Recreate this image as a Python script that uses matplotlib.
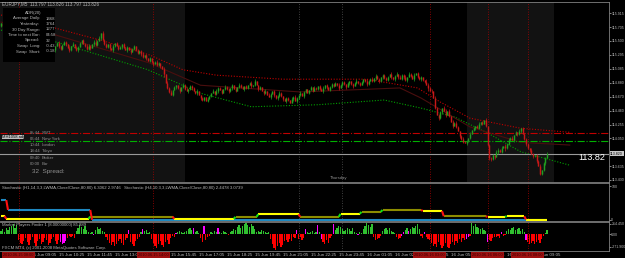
import matplotlib.pyplot as plt
import numpy as np
from matplotlib.transforms import blended_transform_factory

plt.rcParams['font.family'] = ['Liberation Sans', 'DejaVu Sans']

W, H = 625, 258
BAR_PX = 1.75  # horizontal pixels per 5-minute bar

# ---- price data (EURJPY M5), closes in 1/100 yen above 113.00 ----
open0 = 272
closes = [276, 272, 279, 274, 270, 277, 281, 285, 293, 288,
          282, 276, 270, 274, 267, 262, 266, 259, 255, 258,
          252, 247, 250, 244, 240, 245, 238, 241, 246, 240,
          236, 242, 247, 243, 238, 244, 249, 245, 240, 237,
          242, 246, 240, 236, 241, 247, 251, 246, 242, 238,
          243, 240, 245, 249, 244, 250, 255, 262, 252, 246,
          241, 245, 239, 236, 242, 247, 243, 238, 241, 245,
          240, 236, 241, 237, 233, 238, 242, 236, 232, 235,
          230, 226, 229, 224, 220, 225, 218, 215, 219, 214,
          217, 212, 208, 200, 188, 180, 174, 170, 177, 181,
          184, 180, 176, 181, 185, 179, 175, 178, 183, 180,
          176, 172, 175, 169, 165, 162, 166, 161, 164, 168,
          172, 176, 171, 175, 180, 177, 173, 178, 182, 179,
          175, 180, 184, 179, 176, 181, 185, 182, 178, 183,
          180, 184, 188, 183, 185, 190, 184, 178, 181, 176,
          172, 176, 170, 166, 171, 175, 169, 165, 168, 172,
          168, 164, 160, 165, 162, 158, 163, 167, 161, 165,
          169, 172, 168, 174, 178, 173, 177, 181, 176, 180,
          178, 183, 179, 175, 180, 184, 181, 177, 182, 186,
          183, 187, 184, 180, 185, 189, 186, 182, 187, 190,
          186, 183, 188, 191, 187, 184, 189, 193, 190, 186,
          191, 194, 190, 195, 198, 193, 190, 196, 199, 195,
          192, 197, 200, 196, 193, 198, 201, 197, 194, 199,
          196, 192, 197, 201, 198, 194, 199, 202, 197, 193,
          196, 192, 189, 185, 180, 176, 175, 165, 150, 140,
          135, 144, 150, 146, 140, 145, 138, 130, 124, 128,
          122, 116, 108, 104, 100, 98, 101, 106, 112, 117,
          120, 124, 121, 126, 129, 127, 132, 124, 95, 76,
          74, 80, 77, 84, 88, 85, 91, 94, 90, 97,
          102, 106, 103, 110, 114, 111, 116, 120, 112, 104,
          96, 90, 88, 82, 78, 80, 72, 64, 52, 58,
          68, 76, 82]
# wick lengths above / below the body, 1/100 yen per bar
wick_up = ("1213021102 2031120213 1102312011 2013021102 1203110213 2103412021 "
           "1021301120 2110312021 1302110213 2013121302 1120213011 2031021120 "
           "1203112021 1021302110 2112031021 1302112013 2011203121 1302110213 "
           "2011302112 1203112021 0213021103 1120312021 2103112021 1302113021 "
           "2104312031 1203214021 3102312031 2013021302 1203213021 3120213021 "
           "1203102130 2130213021")
wick_dn = ("2102130121 1302011203 2120130211 1203120213 2011302112 1302120312 "
           "2130211203 1021302112 2113021301 1203021120 2130120213 1120312021 "
           "2011302112 2130211203 1203120211 2110302131 1302110213 2103112021 "
           "1120312012 2013021302 1302110213 2011302131 1203120312 2130213021 "
           "3120413021 2130312041 2031203120 1302120213 2130312041 2013021302 "
           "2130213021 1203120312")

# envelope / moving average (bar index, price)
env_up_idx = [0, 31, 57, 85, 104, 123, 161, 209, 238, 251, 268, 297, 325]
env_up_val = [115.885, 115.69, 115.51, 115.29, 115.07, 114.99, 114.93, 114.93,
              114.80, 114.59, 114.35, 114.20, 114.14]
env_lo_idx = [0, 32, 84, 114, 143, 181, 219, 240, 259, 278, 297, 325]
env_lo_val = [115.66, 115.48, 115.07, 114.72, 114.52, 114.55, 114.62, 114.50,
              114.37, 114.13, 113.85, 113.65]
ma_idx = [0, 31, 85, 114, 171, 228, 240, 268, 297, 325]
ma_val = [115.78, 115.59, 115.17, 114.84, 114.74, 114.80, 114.65, 114.22, 113.99, 113.95]

level_red = 114.13
level_green = 114.01
bid = 113.82
price_ticks = [113.430, 113.635, 114.050, 114.255, 114.460, 114.670, 114.880,
               115.085, 115.295, 115.500, 115.705, 115.915]

# vertical marker lines (bar index) and their red date tags
red_vlines = [10, 87, 245, 278, 301]
red_tags = ["2010.06.15 08:00", "2010.06.15 14:00", "2010.06.16 03:00",
            "2010.06.16 06:00", "2010.06.16 08:00"]
grey_vlines = [170, 195]

# time axis labels (bar index of label start)
time_idx = [17, 33, 49, 65, 81, 97, 113, 129, 145, 161, 177, 193, 209, 225,
            241, 257, 273, 289, 305]
time_lab = ["15 Jun 09:05", "15 Jun 10:25", "15 Jun 11:45", "15 Jun 13:05",
            "15 Jun 14:25", "15 Jun 15:45", "15 Jun 17:05", "15 Jun 18:25",
            "15 Jun 19:45", "15 Jun 21:05", "15 Jun 22:25", "15 Jun 23:45",
            "16 Jun 01:05", "16 Jun 02:25", "16 Jun 03:45", "16 Jun 05:05",
            "16 Jun 06:25", "16 Jun 07:45", "16 Jun 09:05"]

# stochastic step lines: segment start bar, value, shade
st1_start = [0, 3, 51, 99, 134, 147, 171, 194, 206, 218, 241, 253, 278, 289, 300]
st1_val = [11, 2, 9, 2, 8, 16, 8, 17, 23, 29, 26, 10, 8, 10, 0]
st1_shade = ['y', 'y', 'o', 'y', 'o', 'y', 'o', 'y', 'o', 'o', 'y', 'o', 'y', 'y', 'y']
st2_start = [0, 4, 52]
st2_val = [59, 29, -1]

# histogram, read in chart pixels (1 px ~ 21 units)
hist_px = [3, 5, 2, 6, 4, 7, 8, 10, 6, 9,
           -6, -9, -10, -7,
           -4, -8, -11, -6, -3, -9, -12, -7, -5, -10, -8, -4, -6, -11, -9, -5, -3, -7, -10, -6,
           -8, -10, -9, -7, -4, -2,
           -3, -2, -4,
           3, 6, 9, 7, 5, 8, 4, 2,
           1, 2, -1,
           4, 7, 5, 6, 3, 2,
           -3, -6, -9, -11, -8, -12, -10, -7, -5, -9, -11, -6, -4, 4, -8, -10, -12, -7, -5, -3,
           2, 5, 3, 4, 1, 2,
           -5, -9, -12, -14, -10, -7, -11, -13, -8, -6, -10, -4, -2, -3,
           1, 2, 3, 2, 1, 2,
           3, 5, 6, 4, 6, 2, 3, 1,
           -4, -8, 8, -6, -3, -2,
           2, 1, 3, 2, 6, 2, 1, 3, 2, 1, -1, 2,
           3, 5, 4, 7, 9, 6, 8, 10, 11, 9, 7, 10, 8, 5,
           2, 3, 2, 4, 3, 2, 1, 2,
           -5, -10, -14, -16, -12, -9, -13, -11, -7,
           -6, -8, -5, -7, -3, -4, 4, -5, -3,
           -6, -4, 5, 2, 1,
           2, 3, 1, 2, 9, 2,
           -5, -8, -10, -6, -9, -4, -2,
           10, 4, 6, 8, 7, 5, 3,
           4, 6, 5, 3, 6, 2,
           1, -1, 2, 1,
           5, 8, 11, 9, 7, 10,
           -3, -6, -5, -4, -2,
           3, 5, 6, 4, 6, 3, 2, 1,
           -3, -5, -4, -2, 2,
           4, 6, 3, 5, 7, 6, 8, 10, 5,
           -2, -4, 2, -3, -5,
           -6, -9, -12, -10, -13, -8, -11, -14, -12, -9, -13, -14, -10, -8, -11, -7, -9, -5, -8, -4, -6,
           -5, -3, -2,
           11, 8, 10, 7, 6,
           5, 6, 4, 3,
           -8, -6, -7, -4, -3,
           -3, -2, -4, 2, -2, -1,
           3, 5, 4, 6, 7, 4, 5, 6, 3, 5, 2,
           -6, -8, -10, -9, -7, -10, -8, -6, -9,
           -5, -2, 1, 4]
hist_magenta = [34, 35, 36, 37, 53, 73, 81, 100, 110, 116, 124, 169, 174, 181,
                183, 190, 204, 229, 230, 233, 242, 266, 267, 278, 286, 300]

# ---- colours ----
BG = '#000000'
SESSION = '#121212'
FG = '#b8b8b8'
FRAME = '#808080'
BULL, BEAR = '#20a020', '#c81818'
RED, GREEN = '#ff1010', '#10e010'
YEL, OLIVE, BLUE = '#ffff00', '#8c8c00', '#1e88c0'

c = 113 + np.array(closes) / 100.0
n = len(c)
o = np.r_[113 + open0 / 100.0, c[:-1]]
up = np.array([int(d) for d in wick_up.replace(' ', '')][:n]) / 100.0
dn = np.array([int(d) for d in wick_dn.replace(' ', '')][:n]) / 100.0
x = np.arange(n)
hi = np.maximum(o, c) + up
lo = np.minimum(o, c) - dn

XMIN, XMAX = -1 / BAR_PX, 608 / BAR_PX


def rect(ytop, ybot):
    return [0, 1 - ybot / H, 609 / W, (ybot - ytop) / H]


fig = plt.figure(figsize=(W / 100, H / 100), dpi=100, facecolor=BG)
ax = fig.add_axes(rect(2, 182))
ax_st = fig.add_axes(rect(183, 221))
ax_h = fig.add_axes(rect(222, 251))

for a in (ax, ax_st, ax_h):
    a.set_facecolor(BG)
    a.set_xlim(XMIN, XMAX)
    a.set_xticks([])
    a.yaxis.tick_right()
    a.tick_params(axis='y', colors=FG, labelsize=2.6, length=1.2, width=0.5, pad=0.5)
    for s in a.spines.values():
        s.set_color(FRAME)
        s.set_linewidth(0.6)
    a.spines['left'].set_visible(False)
    for v in red_vlines:
        a.axvline(v, color='#b00000', lw=0.6, ls=(0, (1, 2)), zorder=1)
    for v in grey_vlines:
        a.axvline(v, color='#555555', lw=0.6, ls=(0, (1, 2)), zorder=1)

# ---- main price panel ----
ax.set_ylim(113.4002, 116.0787)
ax.axvspan(XMIN, 105, color=SESSION, lw=0, zorder=0)
ax.axvspan(266, 316, color=SESSION, lw=0, zorder=0)
ax.plot(env_up_idx, env_up_val, color='#c00000', lw=0.8, ls=(0, (1, 1.5)), zorder=2)
ax.plot(env_lo_idx, env_lo_val, color='#00a000', lw=0.8, ls=(0, (1, 1.5)), zorder=2)
ax.plot(ma_idx, ma_val, color='#4a0e0e', lw=0.8, zorder=2)
ax.axhline(level_red, color='#c00000', lw=0.8, ls='-.', zorder=2)
ax.axhline(level_green, color='#00b000', lw=0.8, ls='-.', zorder=2)
ax.axhline(bid, color='#9a9a9a', lw=0.8, zorder=2)

cols = np.where(c >= o, BULL, BEAR)
ax.vlines(x, lo, hi, colors=cols, lw=0.5, zorder=3)
ax.vlines(x, np.minimum(o, c), np.maximum(np.maximum(o, c), np.minimum(o, c) + 0.006),
          colors=cols, lw=1.05, zorder=3)

ax.set_yticks(price_ticks)
ax.set_yticklabels([f"{p:.3f}" for p in price_ticks])
ax.text(1.002, bid, f"{bid:.3f}", transform=blended_transform_factory(ax.transAxes, ax.transData),
        ha='left', va='center', fontsize=2.6, color='black',
        bbox=dict(boxstyle='square,pad=0.15', fc='#c8c8c8', ec='none'), clip_on=False, zorder=6)
ax.text(330, bid + 0.012, "113.82", fontsize=6.5, color='white', ha='left', va='top', zorder=6)

# header and info box
T = ax.transAxes


def px(xp, yp):
    return xp / 609, 1 - (yp - 2) / 180


ax.text(*px(2, 4), "EURJPY,M5  113.797 113.826 113.797 113.826", transform=T,
        fontsize=3.3, color=FG, va='center', ha='left', zorder=7)
ax.add_patch(plt.Rectangle(px(3, 62), 52 / 609, 54 / 180, transform=T,
                           fc='#000000', ec='none', zorder=5))
info = [("", "ADR(20)"), ("Average Daily:", "1468"), ("Yesterday:", "1764"),
        ("30 Day Range:", "1277"), ("Time to next Bar:", "04:58"),
        ("Spread:", "32"), ("Swap  Long:", "-0.43"), ("Swap  Short:", "-0.18")]
for k, (lab, val) in enumerate(info):
    yy = 13 + k * 5.5
    if lab:
        ax.text(*px(40, yy), lab, transform=T, fontsize=3.1, color=FG, ha='right', va='center', zorder=6)
        ax.text(*px(46, yy), val, transform=T, fontsize=3.1, color=FG, ha='left', va='center', zorder=6)
    else:
        ax.text(*px(25, yy), val, transform=T, fontsize=3.1, color=FG, ha='left', va='center', zorder=6)

sessions = [("05:44", "SWT", 133), ("06:44", "New York", 139), ("10:44", "London", 145),
            ("18:44", "Tokyo", 151), ("09:40", "Broker", 158), ("00:00", "Bar", 164)]
for tm, name, yy in sessions:
    ax.text(*px(30, yy), tm, transform=T, fontsize=3.1, color='#909090', ha='left', va='center', zorder=6)
    ax.text(*px(42, yy), name, transform=T, fontsize=3.1, color='#909090', ha='left', va='center', zorder=6)
ax.text(*px(2, 137), "MH1058 adj", transform=T, fontsize=3.0, color='black', ha='left', va='center',
        bbox=dict(boxstyle='square,pad=0.1', fc='#c0c0c0', ec='none'), zorder=7)
ax.text(*px(32, 171), "32  Spread:", transform=T, fontsize=4.6, color='#909090', ha='left', va='center', zorder=6)
ax.text(*px(330, 178), "Thursday", transform=T, fontsize=3.1, color='#909090', ha='left', va='center', zorder=6)

# ---- stochastic panel ----
ax_st.set_ylim(-4.5, 110.6)
ax_st.set_yticks([0, 100])
ax_st.set_yticklabels(["0", "100"])


def draw_steps(a, starts, vals, shades, end):
    ends = starts[1:] + [end]
    for k, (s, e, v, sh) in enumerate(zip(starts, ends, vals, shades)):
        a.plot([s, e - 1], [v, v], color=sh, lw=1.5, solid_capstyle='butt', zorder=3)
        if k + 1 < len(starts):
            nv = vals[k + 1]
            a.plot([e - 1, e], [v, nv], color=RED if nv < v else GREEN, lw=1.5,
                   solid_capstyle='butt', zorder=4)


draw_steps(ax_st, st2_start, st2_val, [BLUE] * len(st2_start), n)
draw_steps(ax_st, st1_start, st1_val, [YEL if s == 'y' else OLIVE for s in st1_shade], n)
ax_st.text(0.003, 0.93, "Stochastic (H1,14,3,3,LWMA,Close/Close,80,80) 6.3062 2.9746   "
           "Stochastic (H4,10,3,3,LWMA,Close/Close,80,80) 2.4478 3.0739",
           transform=ax_st.transAxes, fontsize=3.1, color=FG, ha='left', va='top')

# ---- histogram panel ----
hv = np.array(hist_px) * 21.0
hx = np.arange(len(hv))
hcol = np.where(hv >= 0, '#30c030', '#ff0000').astype(object)
for m in hist_magenta:
    if m < len(hcol):
        hcol[m] = '#ff00ff'
ax_h.bar(hx, hv, width=0.7, color=list(hcol), lw=0, zorder=3)
ax_h.set_ylim(-357, 252)
ax_h.set_yticks([-271.9, 0, 214.45])
ax_h.set_yticklabels(["-271.900", "0.00", "214.450"])
ax_h.text(0.003, 0.95, "Market Players Finder 1 (8.00000000) 85.889", transform=ax_h.transAxes,
          fontsize=3.1, color=FG, ha='left', va='top', zorder=5)
ax_h.text(0.003, 0.05, "FXCM MT4, (c) 2001-2008 MetaQuotes Software Corp.", transform=ax_h.transAxes,
          fontsize=3.1, color=FG, ha='left', va='bottom', zorder=5)

# ---- time axis ----
bt = blended_transform_factory(ax_h.transData, ax_h.transAxes)
for i, lab in zip(time_idx, time_lab):
    ax_h.text(i, -0.14, lab, transform=bt, fontsize=3.2, color=FG, ha='left', va='center', clip_on=False)
for i, lab in zip(red_vlines, red_tags):
    ax_h.text(i, -0.14, lab, transform=bt, fontsize=2.8, color='#3a0000', ha='center', va='center',
              clip_on=False, zorder=8,
              bbox=dict(boxstyle='square,pad=0.3', fc='#a01010', ec='none'))

fig.savefig('out.png', dpi=100, facecolor=BG)
